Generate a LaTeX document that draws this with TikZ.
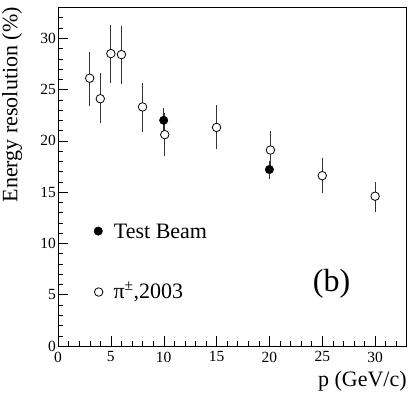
\documentclass[tikz,border=0pt]{standalone}
\usepackage{fontspec}
\setmainfont{Liberation Serif}
\tikzset{>=latex}
\usetikzlibrary{positioning}

\begin{document}
\begin{tikzpicture}[x=1pt,y=1pt,
                    openpt/.style={circle,draw,thick,fill=white,inner sep=0,minimum size=8.5pt},
                    fullpt/.style={circle,draw,fill=black,inner sep=0,minimum size=8.5pt},
                    errbar/.style={line width=0.8pt,black!80},
                    ticklab/.style={font=\fontsize{15.5}{17}\selectfont,inner sep=0pt},
                    biglab/.style={font=\fontsize{22}{26}\selectfont,inner sep=0},
       ]
    \useasboundingbox (0,0) rectangle (415,403);
    \begin{scope}[shift={(58,57)},x=10.57pt,y=10.26pt]
        \draw[thick] (0,0) rectangle (33,33);
        % ticks
        \foreach \i in {1,...,32}
            \draw (\i,0) -- ++(0,5pt) (0,\i) -- ++(5pt,0);
        \foreach \i in {0,5,...,30} {
            \draw (\i,0) -- ++(0,10pt) (0,\i) -- ++(10pt,0);
            \node[ticklab,below=5.5pt] (xt\i) at (\i,0) {\i};
            \node[ticklab,left=2pt] (yt\i) at (0,\i) {\i};
        }
        % error bars
        \foreach \x/\y/\hi/\lo in {3/26.1/28.7/23.4,4/24.1/26.6/21.7,5/28.5/31.3/25.6,6/28.4/31.2/25.5,
                                   8/23.3/25.6/20.9,10.1/20.6/22.7/18.5,15/21.3/23.5/19.2,20.1/19.1/21.0/17.2,
                                   25/16.6/18.3/14.9,30/14.6/16.0/13.1,10/22.0/23.2/20.8,20/17.2/18.0/16.3}
            \draw[errbar] (\x,\lo) -- (\x,\hi);
        \foreach \x/\y [count=\n] in {3/26.1,4/24.1,5/28.5,6/28.4,8/23.3,10.1/20.6,15/21.3,20.1/19.1,25/16.6,30/14.6}
            \node[openpt] (pion\n) at (\x,\y) {};
        \foreach \x/\y [count=\n] in {10/22.0,20/17.2}
            \node[fullpt] (beam\n) at (\x,\y) {};
        % legend
        \node[fullpt] (testbeamdot) at (3.81,11.2) {};
        \node[biglab,right=11pt of testbeamdot] (testbeam) {Test Beam};
        \node[openpt] (piondot) at (3.85,5.26) {};
        \node[biglab,right=10pt of piondot] (pion) {π\textsuperscript{±},2003};
        \node[font=\fontsize{32}{36}\selectfont,inner sep=0,anchor=base west] (panel) at (24.1,5.32) {(b)};
        % axis titles
        \node[biglab,anchor=base east] (xtitle) at (33,-3.97) {p (GeV/c)};
        \node[biglab,anchor=base east,rotate=90] (ytitle) at (-3.85,33.04) {Energy resolution (\%)};
    \end{scope}
\end{tikzpicture}
\end{document}
